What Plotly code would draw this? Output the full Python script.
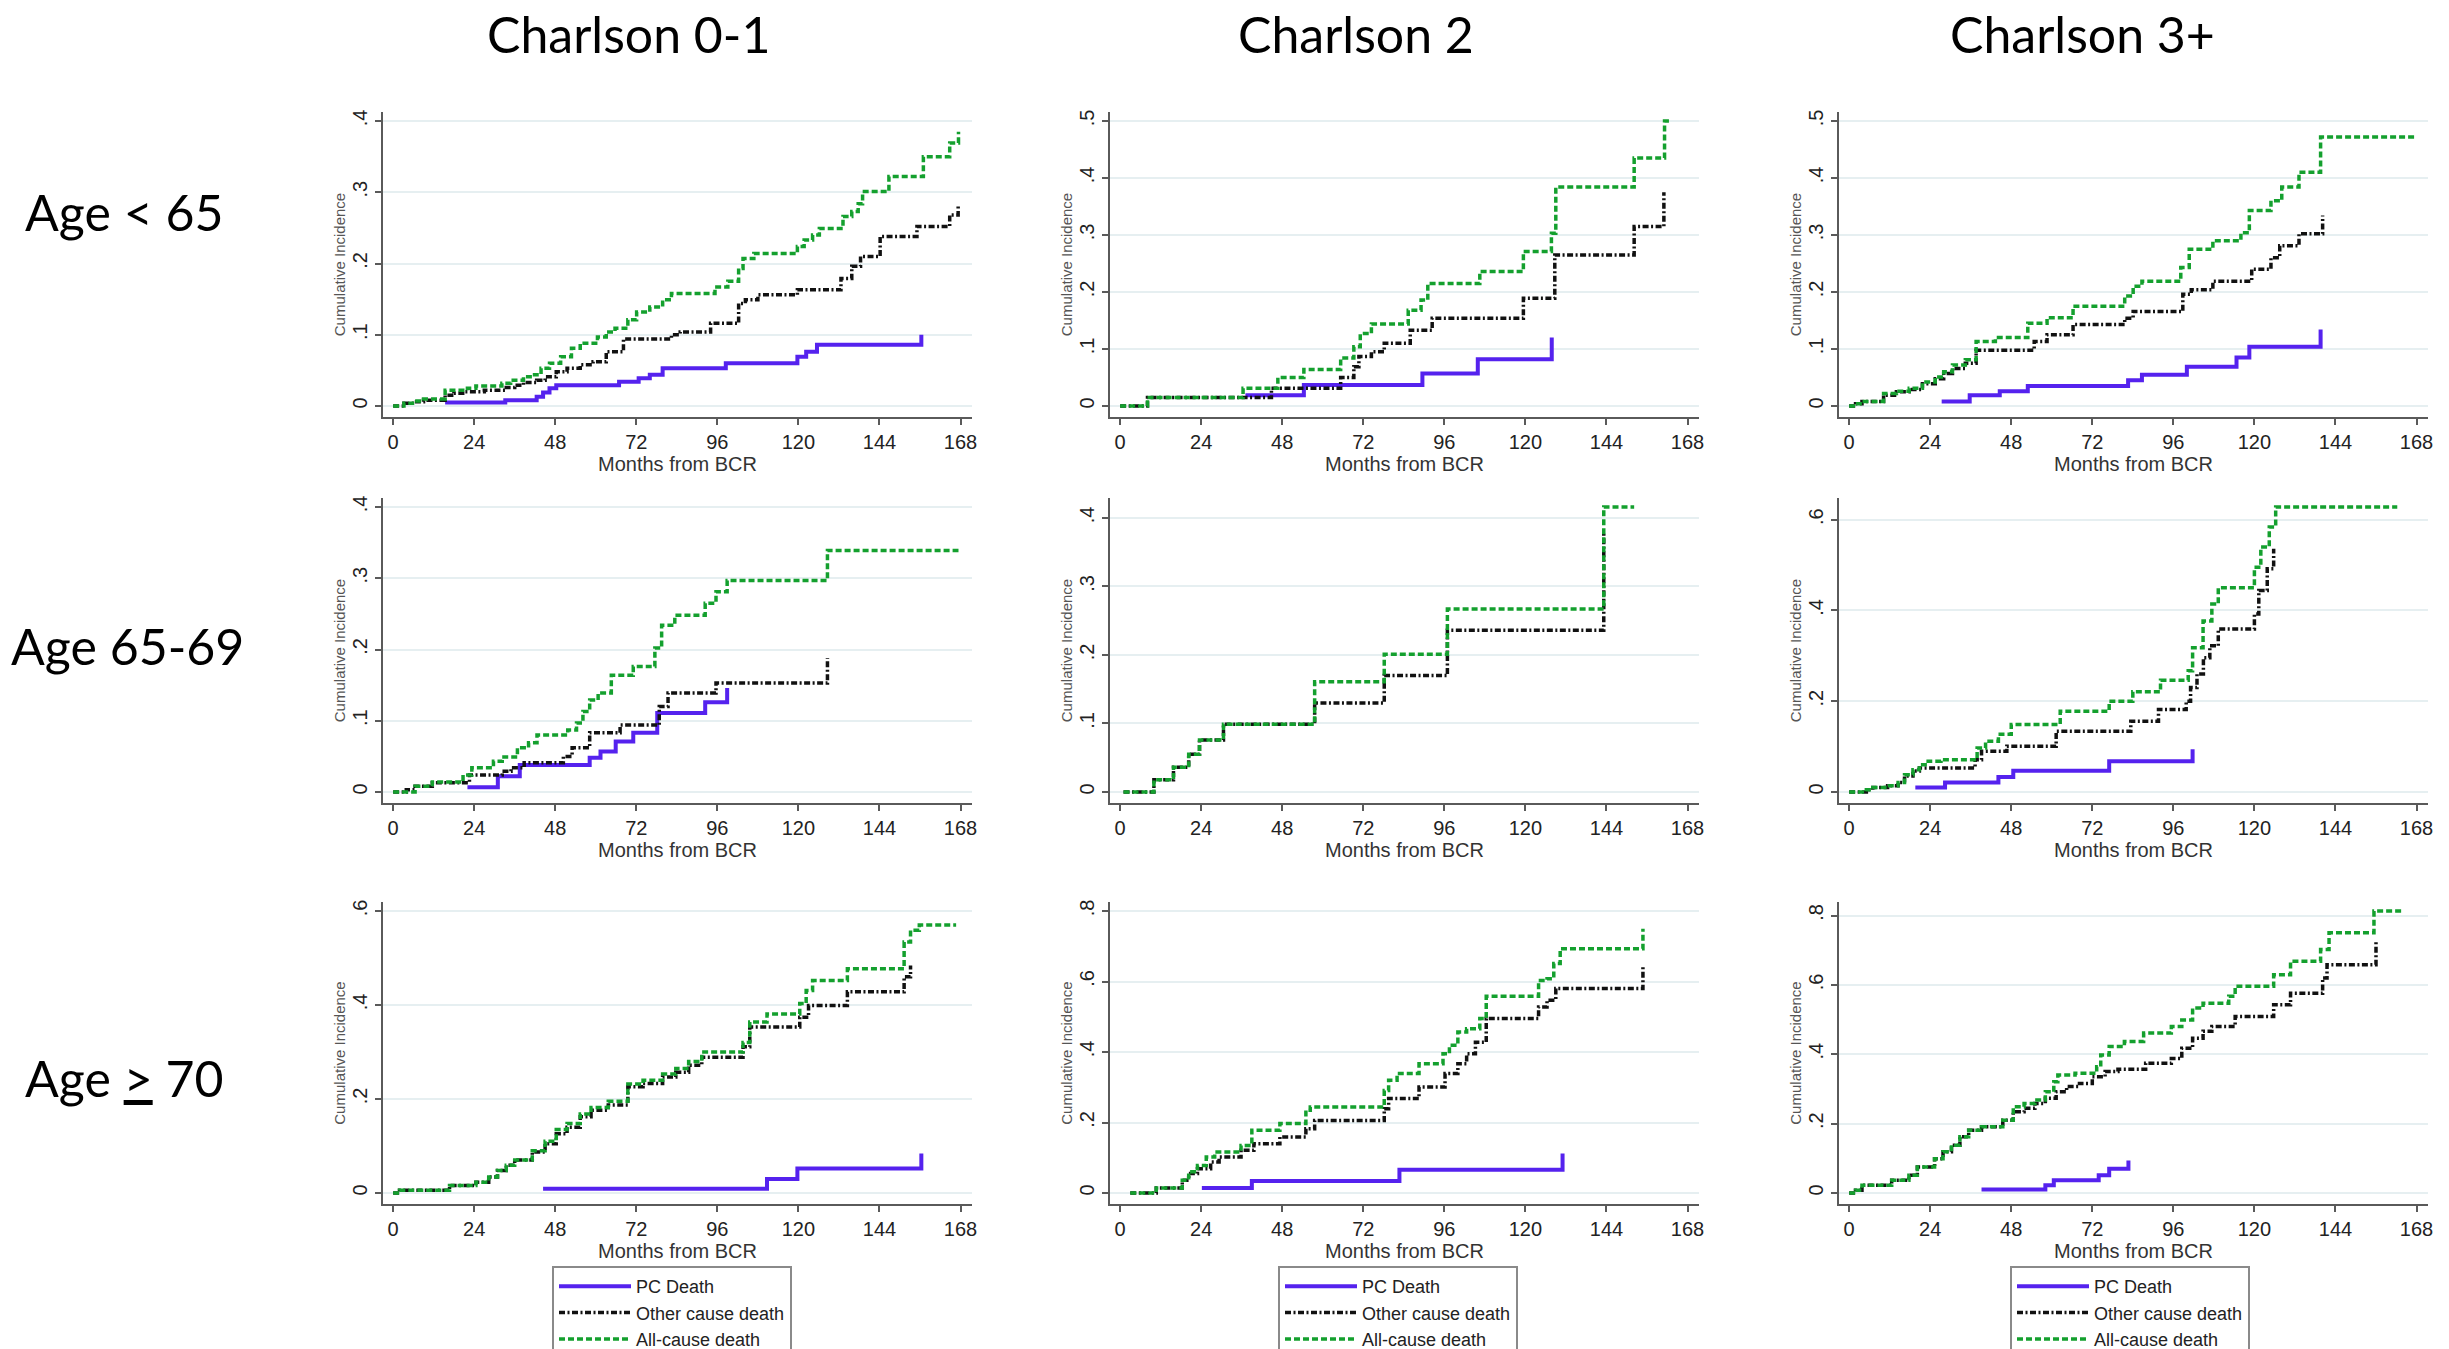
import plotly.graph_objects as go

W, H = 2449, 1349

col_titles = ["Charlson 0-1", "Charlson 2", "Charlson 3+"]
row_titles = ["Age < 65", "Age 65-69", "Age <u>></u> 70"]
series_names = ["PC Death", "Other cause death", "All-cause death"]
x_ticks = [0, 24, 48, 72, 96, 120, 144, 168]
x_title = "Months from BCR"
y_title = "Cumulative Incidence"

y_ticks = [
    [[0, .1, .2, .3, .4], [0, .1, .2, .3, .4, .5], [0, .1, .2, .3, .4, .5]],
    [[0, .1, .2, .3, .4], [0, .1, .2, .3, .4], [0, .2, .4, .6]],
    [[0, .2, .4, .6], [0, .2, .4, .6, .8], [0, .2, .4, .6, .8]],
]

# ---- Row 1: Age < 65 ----
pc_11_t = [15.4, 33.2, 42.5, 44.4, 46.3, 48.3, 66.9, 72.7, 76.0, 79.8, 98.5, 119.7, 122.3, 125.5, 156.4, 156.4]
pc_11_v = [.005, .008, .013, .019, .025, .029, .034, .039, .044, .053, .060, .069, .076, .086, .086, .100]
oc_11_t = [0, 3.2, 6.4, 9.0, 15.4, 18.0, 20.6, 27.0, 33.5, 36.0, 38.6, 42.5, 45.0, 48.3, 51.5, 55.4, 59.2, 63.1,
           68.2, 82.4, 85.0, 94.0, 102.3, 104.3, 108.0, 119.7, 132.6, 135.8, 138.4, 144.2, 155.1, 164.8, 167.3]
oc_11_v = [0, .004, .006, .008, .015, .018, .020, .022, .026, .029, .033, .036, .041, .048, .053, .058, .062, .076,
           .094, .100, .104, .116, .144, .149, .156, .163, .179, .196, .210, .238, .252, .268, .280]
ac_11_t = [0, 3.2, 6.4, 9.0, 15.4, 22.0, 24.5, 32.2, 34.8, 38.6, 41.2, 43.8, 46.3, 49.6, 52.8, 55.4, 60.5, 63.1,
           65.7, 69.5, 72.1, 76.0, 79.8, 82.4, 95.3, 99.1, 102.3, 103.6, 106.8, 119.7, 121.7, 124.2, 126.2, 133.2,
           135.8, 137.7, 139.0, 146.8, 157.0, 164.8, 167.4]
ac_11_v = [0, .004, .007, .010, .022, .025, .028, .032, .036, .041, .044, .053, .060, .069, .081, .088, .097, .104,
           .109, .121, .132, .139, .149, .158, .167, .175, .193, .207, .214, .224, .233, .240, .249, .266,
           .273, .284, .301, .322, .350, .369, .385]

pc_12_t = [37.1, 54.4, 89.5, 105.9, 127.8, 127.8]
pc_12_v = [.019, .037, .057, .082, .082, .120]
oc_12_t = [0, 8.1, 44.8, 65.3, 69.2, 70.7, 74.4, 78.2, 85.9, 92.4, 119.4, 128.7, 152.2, 161.0, 161.0]
oc_12_v = [0, .015, .031, .050, .069, .087, .095, .110, .133, .154, .189, .265, .315, .315, .375]
ac_12_t = [0, 8.1, 36.4, 46.7, 54.4, 65.3, 69.2, 71.1, 74.4, 85.3, 89.1, 91.1, 106.5, 119.4, 127.7, 129.0,
           152.2, 161.2, 162.5]
ac_12_v = [0, .015, .031, .050, .064, .084, .104, .127, .144, .168, .186, .215, .236, .271, .303, .384,
           .435, .500, .500]

pc_13_t = [27.4, 35.7, 44.6, 52.9, 82.6, 86.7, 100.0, 114.7, 118.5, 139.6, 139.6]
pc_13_v = [.008, .019, .026, .035, .045, .055, .069, .085, .104, .104, .134]
oc_13_t = [0, 1.9, 3.8, 10.2, 14.0, 17.8, 21.7, 25.5, 28.0, 30.6, 34.4, 37.6, 54.8, 58.6, 66.3, 81.6, 84.1,
           98.8, 101.3, 107.7, 119.2, 124.9, 127.5, 133.2, 140.2, 140.2]
oc_13_v = [0, .004, .008, .019, .025, .029, .039, .048, .057, .066, .075, .098, .113, .125, .143, .154, .166,
           .196, .204, .219, .240, .260, .281, .302, .302, .334]
ac_13_t = [0, 1.9, 3.8, 10.2, 14.0, 17.8, 21.7, 25.5, 28.0, 30.6, 34.4, 37.6, 43.3, 52.9, 58.6, 66.3, 81.6,
           84.1, 86.7, 98.2, 100.7, 107.7, 116.0, 118.5, 124.9, 128.1, 133.2, 139.6, 167.6]
ac_13_v = [0, .004, .008, .022, .026, .031, .042, .051, .060, .072, .081, .113, .120, .145, .155, .175, .193,
           .210, .219, .243, .275, .290, .304, .343, .360, .384, .410, .472, .472]

# ---- Row 2: Age 65-69 ----
pc_21_t = [22.0, 31.0, 37.5, 58.2, 61.4, 65.9, 71.1, 78.2, 92.4, 98.9, 98.9]
pc_21_v = [.0065, .022, .038, .048, .057, .071, .083, .111, .126, .126, .146]
oc_21_t = [0, 3.9, 6.5, 11.6, 22.6, 32.3, 34.9, 38.8, 50.4, 53.0, 58.2, 67.2, 78.8, 81.4, 95.6, 128.6, 128.6]
oc_21_v = [0, .003, .008, .013, .024, .029, .034, .041, .050, .062, .083, .094, .120, .139, .153, .153, .188]
ac_21_t = [0, 6.5, 11.6, 20.7, 23.3, 29.7, 32.3, 36.8, 40.1, 42.6, 51.7, 54.3, 56.2, 58.2, 60.7, 64.6, 71.1,
           77.5, 79.5, 83.4, 92.4, 95.6, 98.9, 128.6, 167.4]
ac_21_v = [0, .008, .014, .024, .034, .043, .049, .062, .069, .080, .087, .097, .113, .129, .139, .164, .176,
           .202, .234, .248, .265, .281, .297, .339, .339]

pc_22_t = []
pc_22_v = []
oc_22_t = [1.0, 10.0, 15.8, 20.3, 23.5, 30.6, 57.6, 78.2, 96.9, 143.2, 143.2]
oc_22_v = [0, .018, .036, .055, .076, .099, .130, .170, .236, .236, .380]
ac_22_t = [1.0, 10.0, 15.8, 20.3, 23.5, 30.6, 57.6, 78.2, 96.9, 143.2, 152.2]
ac_22_v = [0, .018, .036, .055, .076, .099, .161, .201, .267, .416, .416]

pc_23_t = [19.6, 28.4, 44.2, 48.6, 77.0, 101.7, 101.7]
pc_23_v = [.010, .021, .033, .047, .068, .068, .094]
oc_23_t = [0, 5.1, 7.0, 11.4, 14.5, 16.4, 18.9, 20.8, 37.3, 39.2, 46.7, 61.3, 83.4, 91.6, 99.8, 101.1, 103.0,
           104.9, 106.8, 109.3, 120.0, 121.3, 123.8, 125.7, 125.7]
oc_23_v = [0, .005, .010, .014, .021, .035, .046, .053, .071, .090, .101, .134, .156, .182, .200, .230, .260,
           .296, .322, .359, .392, .444, .492, .492, .536]
ac_23_t = [0, 5.1, 7.0, 11.4, 14.5, 16.4, 18.9, 20.8, 23.4, 27.2, 37.9, 40.4, 44.2, 48.0, 62.5, 77.0, 84.0,
           92.2, 100.4, 101.7, 104.8, 107.4, 109.3, 120.0, 121.9, 124.4, 126.3, 162.3]
ac_23_v = [0, .005, .010, .014, .021, .038, .049, .060, .068, .071, .097, .112, .127, .149, .178, .200, .221,
           .246, .267, .318, .377, .414, .450, .495, .540, .584, .628, .628]

# ---- Row 3: Age >= 70 ----
pc_31_t = [44.4, 110.7, 119.7, 156.4, 156.4]
pc_31_v = [.009, .030, .052, .052, .084]
oc_31_t = [0, 1.9, 16.7, 24.5, 28.3, 30.9, 33.5, 36.0, 41.2, 45.0, 48.3, 51.5, 55.4, 58.6, 63.7, 69.5, 74.0,
           79.8, 83.7, 87.5, 91.4, 103.6, 105.6, 120.4, 123.0, 134.5, 151.3, 153.2, 153.2]
oc_31_v = [0, .006, .016, .023, .034, .048, .059, .070, .087, .105, .126, .140, .162, .176, .187, .226, .233,
           .247, .257, .272, .289, .311, .353, .374, .399, .428, .460, .460, .484]
ac_31_t = [0, 1.9, 16.7, 24.5, 28.3, 30.9, 33.5, 36.0, 41.2, 45.0, 48.3, 51.5, 55.4, 58.6, 63.7, 69.5, 74.0,
           79.8, 83.7, 87.5, 91.4, 103.6, 105.6, 110.7, 120.4, 122.3, 124.2, 134.5, 151.3, 153.2, 155.8, 166.7]
ac_31_v = [0, .006, .016, .023, .034, .048, .059, .070, .090, .110, .135, .148, .168, .182, .195, .232, .240,
           .253, .265, .280, .300, .320, .364, .381, .403, .431, .452, .477, .534, .559, .570, .570]

pc_32_t = [24.2, 39.0, 82.7, 131.0, 131.0]
pc_32_v = [.014, .034, .066, .066, .112]
oc_32_t = [3.0, 10.7, 18.4, 20.3, 22.9, 26.8, 29.3, 35.8, 39.6, 47.3, 55.0, 57.6, 78.2, 79.5, 88.5, 96.2, 100.0,
           102.6, 105.2, 108.4, 123.9, 126.4, 129.0, 154.8, 154.8]
oc_32_v = [0, .014, .036, .055, .069, .088, .102, .121, .140, .159, .182, .206, .239, .268, .301, .339, .367,
           .395, .428, .495, .528, .547, .580, .580, .641]
ac_32_t = [3.0, 10.7, 18.4, 20.3, 22.9, 25.5, 28.0, 35.8, 39.0, 47.3, 55.0, 56.3, 78.2, 79.5, 82.0, 88.5, 95.6,
           97.5, 100.0, 102.6, 106.5, 108.4, 123.9, 126.4, 128.4, 130.3, 154.8, 154.8]
ac_32_v = [0, .014, .036, .060, .078, .102, .116, .135, .178, .197, .235, .244, .291, .320, .339, .367, .395,
           .419, .457, .466, .495, .558, .603, .608, .651, .693, .693, .750]

pc_33_t = [39.2, 58.1, 60.6, 73.9, 77.0, 82.7, 82.7]
pc_33_v = [.010, .022, .037, .051, .070, .070, .094]
oc_33_t = [0, 1.9, 3.8, 12.6, 17.7, 20.2, 25.3, 27.8, 30.3, 32.8, 35.4, 39.2, 45.5, 48.6, 51.8, 55.0, 58.1, 61.3,
           64.4, 68.2, 72.0, 75.8, 79.6, 87.8, 95.4, 98.5, 101.7, 104.8, 107.4, 114.3, 125.7, 130.7, 140.2, 141.5,
           156.0, 156.0]
oc_33_v = [0, .008, .022, .037, .051, .075, .099, .119, .138, .162, .181, .191, .210, .234, .244, .258, .273, .292,
           .307, .316, .335, .350, .357, .374, .388, .417, .446, .466, .480, .509, .543, .576, .620, .658,
           .658, .726]
ac_33_t = [0, 1.9, 3.8, 12.6, 17.7, 20.2, 25.3, 27.8, 30.3, 32.8, 35.4, 39.2, 45.5, 48.6, 51.8, 55.0, 58.1, 60.6,
           61.8, 66.9, 73.3, 74.5, 77.0, 81.5, 87.2, 95.4, 98.5, 101.7, 104.8, 112.4, 114.3, 125.7, 130.7, 139.6,
           142.1, 155.4, 164.2]
ac_33_v = [0, .008, .022, .037, .051, .075, .099, .119, .138, .162, .181, .191, .210, .249, .258, .268, .292, .321,
           .340, .345, .364, .398, .422, .437, .461, .480, .499, .533, .547, .567, .596, .629, .668, .702,
           .750, .813, .813]

panels = [
    [((pc_11_t, pc_11_v), (oc_11_t, oc_11_v), (ac_11_t, ac_11_v)),
     ((pc_12_t, pc_12_v), (oc_12_t, oc_12_v), (ac_12_t, ac_12_v)),
     ((pc_13_t, pc_13_v), (oc_13_t, oc_13_v), (ac_13_t, ac_13_v))],
    [((pc_21_t, pc_21_v), (oc_21_t, oc_21_v), (ac_21_t, ac_21_v)),
     ((pc_22_t, pc_22_v), (oc_22_t, oc_22_v), (ac_22_t, ac_22_v)),
     ((pc_23_t, pc_23_v), (oc_23_t, oc_23_v), (ac_23_t, ac_23_v))],
    [((pc_31_t, pc_31_v), (oc_31_t, oc_31_v), (ac_31_t, ac_31_v)),
     ((pc_32_t, pc_32_v), (oc_32_t, oc_32_v), (ac_32_t, ac_32_v)),
     ((pc_33_t, pc_33_v), (oc_33_t, oc_33_v), (ac_33_t, ac_33_v))],
]

# ---- styling / layout (pixels) ----
line_styles = [
    dict(color="#5522EE", width=4, dash="solid"),
    dict(color="#111111", width=3.5, dash="6px,2.5px,2px,2.5px"),
    dict(color="#14A02E", width=3.5, dash="6px,3px"),
]
col_left = [383, 1110, 1839]
col_width = 589
row_zero = [406, 792, 1193]
row_top = [121, 507, 911]
x_range = [-3, 171.4]
col_title_x = [628, 1356, 2082]
col_title_y = 34
row_title_x = [124, 127, 124]
row_title_y = [212, 646, 1078]
legend_x = [552, 1278, 2010]
legend_y = 1266

TICK_FONT = dict(family="Liberation Sans, Arial, sans-serif", size=20, color="#222222")
AXIS_COLOR = "#5a5a5a"
GRID_COLOR = "#E6EFF1"


def fmt(v):
    return "0" if v == 0 else ("%.1f" % v).lstrip("0")


fig = go.Figure()
layout = {}
legend_keys = ["legend", "legend2", "legend3"]

for r in range(3):
    for c in range(3):
        idx = r * 3 + c + 1
        xa = "x" if idx == 1 else f"x{idx}"
        ya = "y" if idx == 1 else f"y{idx}"
        series = panels[r][c]
        for s, (t, v) in enumerate(series):
            if not t:
                continue
            fig.add_trace(go.Scatter(
                x=t, y=v, mode="lines", line_shape="hv",
                line=line_styles[s], name=series_names[s],
                xaxis=xa, yaxis=ya,
                showlegend=(r == 2), legend=legend_keys[c],
                hoverinfo="skip",
            ))
        ticks = y_ticks[r][c]
        top = max([ticks[-1]] + [max(v) for (t, v) in series if v])
        hpx = row_zero[r] - row_top[r]
        y_lo = -11.0 / hpx * top
        y_hi = top + 9.0 / hpx * top
        x0 = col_left[c] / W
        x1 = (col_left[c] + col_width) / W
        yb = 1 - (row_zero[r] + 11) / H
        yt = 1 - (row_top[r] - 9) / H
        layout["xaxis" if idx == 1 else f"xaxis{idx}"] = dict(
            domain=[x0, x1], range=x_range, anchor=ya,
            tickvals=x_ticks, ticktext=[str(x) for x in x_ticks],
            showline=True, linecolor=AXIS_COLOR, linewidth=1.5,
            ticks="outside", ticklen=6, tickwidth=1.5, tickcolor=AXIS_COLOR,
            tickfont=TICK_FONT, showgrid=False, zeroline=False,
            title=dict(text=x_title, font=dict(family="Liberation Sans, Arial, sans-serif", size=20,
                                               color="#333333"), standoff=0),
        )
        layout["yaxis" if idx == 1 else f"yaxis{idx}"] = dict(
            domain=[yb, yt], range=[y_lo, y_hi], anchor=xa,
            tickvals=ticks, ticktext=[fmt(v) for v in ticks], tickangle=-90,
            showline=True, linecolor=AXIS_COLOR, linewidth=1.5,
            ticks="outside", ticklen=6, tickwidth=1.5, tickcolor=AXIS_COLOR,
            tickfont=TICK_FONT, showgrid=True, gridcolor=GRID_COLOR, gridwidth=1.5,
            zeroline=False,
            title=dict(text=y_title, font=dict(family="Liberation Sans, Arial, sans-serif", size=15,
                                               color="#555555"), standoff=0),
        )

annotations = []
for c in range(3):
    annotations.append(dict(text=col_titles[c], x=col_title_x[c] / W, y=1 - col_title_y / H,
                            xref="paper", yref="paper", xanchor="center", yanchor="middle",
                            showarrow=False, font=dict(family="Lato, sans-serif", size=50, color="#000000")))
for r in range(3):
    annotations.append(dict(text=row_titles[r], x=row_title_x[r] / W, y=1 - row_title_y[r] / H,
                            xref="paper", yref="paper", xanchor="center", yanchor="middle",
                            showarrow=False, font=dict(family="Lato, sans-serif", size=50, color="#000000")))

for c in range(3):
    layout[legend_keys[c]] = dict(
        x=legend_x[c] / W, y=1 - legend_y / H, xanchor="left", yanchor="top",
        xref="paper", yref="paper",
        bgcolor="white", bordercolor="#8a8a8a", borderwidth=2,
        font=dict(family="Liberation Sans, Arial, sans-serif", size=18, color="#222222"),
        itemwidth=72, tracegroupgap=0, traceorder="normal",
    )

fig.update_layout(
    width=W, height=H, autosize=False,
    margin=dict(l=0, r=0, t=0, b=0, autoexpand=False),
    paper_bgcolor="white", plot_bgcolor="white",
    annotations=annotations,
    **layout,
)

fig.write_html("out.html")
